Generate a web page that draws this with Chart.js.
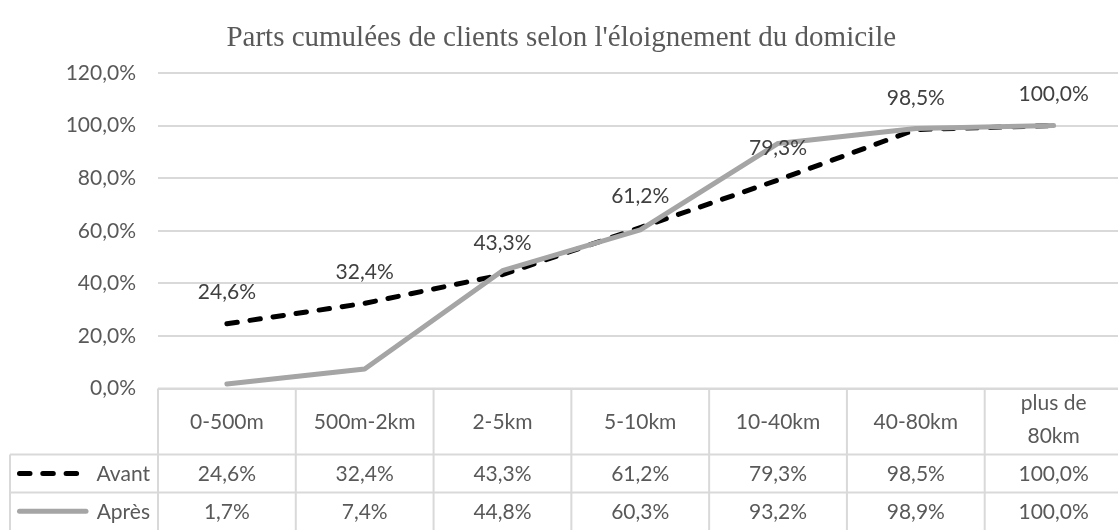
<!DOCTYPE html>
<html>
<head>
<meta charset="utf-8">
<title>Parts cumulées de clients</title>
<script src="https://cdn.jsdelivr.net/npm/chart.js@4/dist/chart.umd.min.js"></script>
<style>
  html, body { margin: 0; padding: 0; background: #fff; overflow: hidden; }
  canvas { display: block; }
</style>
</head>
<body>
<canvas id="myChart" width="1125" height="530"></canvas>
<script>
// distance classes (multi-line where the cell wraps)
var categories = ['0-500m', '500m-2km', '2-5km', '5-10km', '10-40km', '40-80km', ['plus de', '80km']];
// cumulative share of clients, in %
var avant = [24.6, 32.4, 43.3, 61.2, 79.3, 98.5, 100.0];
var apres = [1.7, 7.4, 44.8, 60.3, 93.2, 98.9, 100.0];
var seriesNames = ['Avant', 'Après'];
var yMax = 120;
var yStep = 20;

var FONT = 'Lato, "Open Sans", sans-serif';
var TEXT = '#595959';
var GRID = '#d9d9d9';

function pct(v) {
  return v.toFixed(1).replace('.', ',') + '%';
}

// data table drawn under the plot, plus value labels on the "Avant" line
var tablePlugin = {
  id: 'dataTable',
  afterDatasetsDraw: function (chart) {
    var ctx = chart.ctx;
    var meta = chart.getDatasetMeta(0);
    ctx.save();
    ctx.font = '21px ' + FONT;
    ctx.fillStyle = '#404040';
    ctx.textAlign = 'center';
    ctx.textBaseline = 'middle';
    meta.data.forEach(function (pt, i) {
      ctx.fillText(pct(avant[i]), pt.x, pt.y - 31.5);
    });
    ctx.restore();
  },
  afterDraw: function (chart) {
    var ctx = chart.ctx;
    var area = chart.chartArea;
    var x = chart.scales.x;
    var colW = (area.right - area.left) / categories.length;
    var top = area.bottom;
    var row1 = top + 66;
    var row2 = row1 + 38;
    var bottom = chart.height;
    var legendLeft = 10;

    ctx.save();
    ctx.strokeStyle = GRID;
    ctx.lineWidth = 2;
    ctx.beginPath();
    ctx.moveTo(area.left, top); ctx.lineTo(chart.width, top);
    ctx.moveTo(legendLeft, row1); ctx.lineTo(chart.width, row1);
    ctx.moveTo(legendLeft, row2); ctx.lineTo(chart.width, row2);
    ctx.moveTo(legendLeft, row1); ctx.lineTo(legendLeft, bottom);
    for (var c = 0; c <= categories.length; c++) {
      var cx = area.left + c * colW;
      ctx.moveTo(cx, top); ctx.lineTo(cx, bottom);
    }
    ctx.stroke();

    ctx.font = '21px ' + FONT;
    ctx.fillStyle = TEXT;
    ctx.textAlign = 'center';
    ctx.textBaseline = 'middle';
    categories.forEach(function (cat, i) {
      var px = x.getPixelForValue(i);
      var lines = Array.isArray(cat) ? cat : [cat];
      var mid = lines.length > 1 ? (top + row1) / 2 - 1.5 : (top + row1) / 2 + 1;
      var lh = 33;
      lines.forEach(function (ln, k) {
        ctx.fillText(ln, px, mid + (k - (lines.length - 1) / 2) * lh);
      });
      ctx.fillText(pct(avant[i]), px, (row1 + row2) / 2 + 1);
      ctx.fillText(pct(apres[i]), px, (row2 + bottom) / 2 + 1);
    });

    // legend keys in the first column
    var ds = chart.data.datasets;
    var rows = [(row1 + row2) / 2, (row2 + bottom) / 2];
    [0, 1].forEach(function (d) {
      var y = rows[d];
      ctx.save();
      ctx.strokeStyle = ds[d].borderColor;
      ctx.lineWidth = ds[d].borderWidth;
      ctx.lineCap = 'round';
      ctx.setLineDash(ds[d].borderDash || []);
      ctx.beginPath();
      ctx.moveTo(19.5, y);
      ctx.lineTo(d === 0 ? 80 : 86, y);
      ctx.stroke();
      ctx.restore();
      ctx.textAlign = 'right';
      ctx.fillStyle = TEXT;
      ctx.fillText(seriesNames[d], 150, y + 1);
    });
    ctx.restore();
  }
};

var ctx = document.getElementById('myChart').getContext('2d');

var myChart = new Chart(ctx, {
  type: 'line',
  data: {
    labels: categories,
    datasets: [{
      label: seriesNames[0],
      data: avant,
      borderColor: '#000000',
      borderWidth: 5,
      borderDash: [10.5, 12.8],
      borderCapStyle: 'round',
      pointRadius: 0,
      tension: 0,
      order: 1
    },
    {
      label: seriesNames[1],
      data: apres,
      borderColor: '#a5a5a5',
      borderWidth: 5,
      borderCapStyle: 'round',
      borderJoinStyle: 'round',
      pointRadius: 0,
      tension: 0,
      order: 0
    }]
  },
  options: {
    responsive: false,
    animation: false,
    layout: {
      padding: { left: 0, right: 2.5, top: 0, bottom: 141.5 }
    },
    plugins: {
      legend: { display: false },
      tooltip: { enabled: false },
      title: {
        display: true,
        text: "Parts cumulées de clients selon l'éloignement du domicile",
        color: TEXT,
        font: { family: '"Liberation Serif", "Times New Roman", serif', size: 29, weight: 'normal' },
        padding: { top: 20.6, bottom: 17.6 }
      }
    },
    scales: {
      x: {
        display: false,
        offset: true
      },
      y: {
        min: 0,
        max: yMax,
        afterFit: function (scale) { scale.width = 158; },
        border: { display: false },
        grid: { color: GRID, lineWidth: 2, drawTicks: false },
        ticks: {
          stepSize: yStep,
          padding: 22,
          color: TEXT,
          font: { family: FONT, size: 21 },
          callback: function (v) { return pct(v); }
        }
      }
    }
  },
  plugins: [tablePlugin]
});
</script>
</body>
</html>
